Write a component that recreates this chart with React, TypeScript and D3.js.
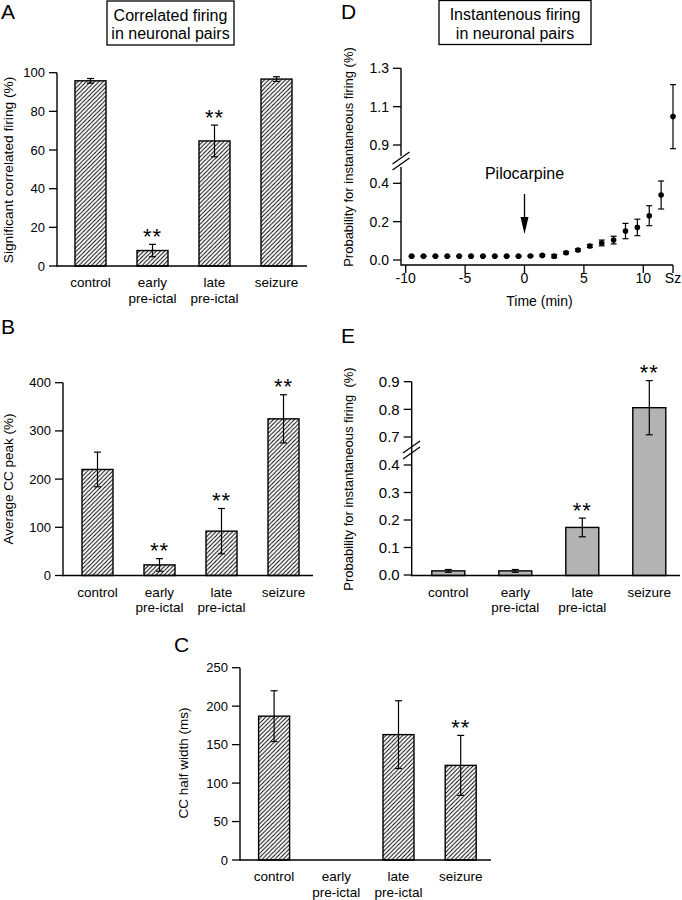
import React from "react";
import * as d3 from "d3";

const FONT = "'Liberation Sans', Arial, Helvetica, sans-serif";

// ---------- data ----------
const categories = ["control", "early", "late", "seizure"];
const categoryLabels = [["control"], ["early", "pre-ictal"], ["late", "pre-ictal"], ["seizure"]];

const aValues = [95.8, 8, 64.7, 96.7];
const aErrors = [1.2, 3.2, 8.2, 1.2];
const aStars = [false, true, true, false];
const aTicks = [0, 20, 40, 60, 80, 100];

const bValues = [220, 22, 92, 325];
const bErrors = [36, 13, 47, 50];
const bStars = [false, true, true, true];
const bTicks = [0, 100, 200, 300, 400];

const cValues: (number | null)[] = [187, null, 163, 123];
const cErrors: (number | null)[] = [33, null, 44, 39];
const cStars = [false, false, false, true];
const cTicks = [0, 50, 100, 150, 200, 250];

const eValues = [0.015, 0.015, 0.173, 0.806];
const eErrors = [0.005, 0.005, 0.034, 0.098];
const eStars = [false, false, true, true];
const eTicksLow = [0, 0.1, 0.2, 0.3, 0.4];
const eTicksHigh = [0.7, 0.8, 0.9];

const dTimes = [-9.5, -8.5, -7.5, -6.5, -5.5, -4.5, -3.5, -2.5, -1.5, -0.5, 0.5, 1.5, 2.5, 3.5, 4.5, 5.5, 6.5, 7.5, 8.5, 9.5, 10.5, 11.5];
const dValues = [0.02, 0.02, 0.02, 0.02, 0.02, 0.02, 0.02, 0.02, 0.02, 0.02, 0.021, 0.024, 0.02, 0.038, 0.052, 0.073, 0.089, 0.104, 0.151, 0.17, 0.231, 0.339];
const dErrors = [0.002, 0.002, 0.002, 0.002, 0.002, 0.002, 0.002, 0.002, 0.002, 0.002, 0.003, 0.004, 0.008, 0.006, 0.006, 0.008, 0.015, 0.02, 0.04, 0.043, 0.052, 0.073];
const dSeizureTime = 12.5;
const dSeizureValue = 1.048;
const dSeizureError = 0.167;
const dXTicks = [-10, -5, 0, 5, 10];
const dTicksLow = [0, 0.2, 0.4];
const dTicksHigh = [0.9, 1.1, 1.3];

// ---------- helpers ----------
type Scale = (v: number) => number;

function broken(lower: d3.ScaleLinear<number, number>, upper: d3.ScaleLinear<number, number>, split: number): Scale {
  return (v: number) => (v <= split ? lower(v) : upper(v));
}

function YTicks({ x, scale, ticks, fmt, fs }: { x: number; scale: Scale; ticks: number[]; fmt: (v: number) => string; fs: number }) {
  return (
    <g>
      {ticks.map((t) => (
        <g key={t}>
          <line x1={x - 8} x2={x} y1={scale(t)} y2={scale(t)} stroke="#000" strokeWidth={1.3} />
          <text x={x - 12} y={scale(t)} dy="0.35em" textAnchor="end" fontSize={fs} fontFamily={FONT}>
            {fmt(t)}
          </text>
        </g>
      ))}
    </g>
  );
}

function ErrorBar({ cx, top, bottom, cap }: { cx: number; top: number; bottom: number; cap: number }) {
  return (
    <g stroke="#000" strokeWidth={1.2}>
      <line x1={cx} x2={cx} y1={top} y2={bottom} />
      <line x1={cx - cap / 2} x2={cx + cap / 2} y1={top} y2={top} />
      <line x1={cx - cap / 2} x2={cx + cap / 2} y1={bottom} y2={bottom} />
    </g>
  );
}

type BarProps = {
  axisX: number;
  axisY: number;
  xEnd: number;
  range: [number, number];
  scale: Scale;
  topY: number;
  values: (number | null)[];
  errors: (number | null)[];
  stars: boolean[];
  barW: number;
  fill: string;
  labelFs: number;
};

function BarChart(p: BarProps) {
  const x = d3.scalePoint<string>().domain(categories).range(p.range).padding(0.5);
  return (
    <g>
      {categories.map((c, i) => {
        const v = p.values[i];
        const cx = x(c)!;
        const e = p.errors[i];
        return (
          <g key={c}>
            {v !== null && (
              <rect x={cx - p.barW / 2} y={p.scale(v)} width={p.barW} height={p.axisY - p.scale(v)} fill={p.fill} stroke="#000" strokeWidth={1.4} />
            )}
            {v !== null && e !== null && <ErrorBar cx={cx} top={p.scale(v + e)} bottom={p.scale(v - e)} cap={7} />}
            {v !== null && e !== null && p.stars[i] && (
              <text x={cx} y={p.scale(v + e) - 13 + 12.5} textAnchor="middle" fontSize={22} letterSpacing={1} fontFamily={FONT}>
                **
              </text>
            )}
            <text x={cx} y={p.axisY + 21} textAnchor="middle" fontSize={p.labelFs} fontFamily={FONT}>
              {categoryLabels[i].map((l, j) => (
                <tspan key={j} x={cx} dy={j === 0 ? 0 : 15.5}>
                  {l}
                </tspan>
              ))}
            </text>
          </g>
        );
      })}
      <line x1={p.axisX} x2={p.axisX} y1={p.topY} y2={p.axisY + 0.7} stroke="#000" strokeWidth={1.4} />
      <line x1={p.axisX} x2={p.xEnd} y1={p.axisY} y2={p.axisY} stroke="#000" strokeWidth={1.4} />
    </g>
  );
}

function YTitle({ x, y, text, fs }: { x: number; y: number; text: string; fs: number }) {
  return (
    <text transform={`translate(${x},${y}) rotate(-90)`} textAnchor="middle" fontSize={fs} fontFamily={FONT} style={{ whiteSpace: "pre" }}>
      {text}
    </text>
  );
}

function Letter({ x, y, t }: { x: number; y: number; t: string }) {
  return (
    <text x={x} y={y} fontSize={21} fontFamily={FONT}>
      {t}
    </text>
  );
}

function TitleBox({ x, y, w, h, lines }: { x: number; y: number; w: number; h: number; lines: string[] }) {
  return (
    <g>
      <rect x={x} y={y} width={w} height={h} fill="#fff" stroke="#000" strokeWidth={1.3} />
      {lines.map((l, i) => (
        <text key={i} x={x + w / 2} y={y + 19.5 + i * 18.5} textAnchor="middle" fontSize={16} fontFamily={FONT}>
          {l}
        </text>
      ))}
    </g>
  );
}

export default function App() {
  const f0 = d3.format(".0f");
  const f1 = d3.format(".1f");

  const aScale = d3.scaleLinear().domain([0, 100]).range([266, 72.7]);
  const bScale = d3.scaleLinear().domain([0, 400]).range([575.5, 382.7]);
  const cScale = d3.scaleLinear().domain([0, 250]).range([860, 667.7]);
  const eScale = broken(
    d3.scaleLinear().domain([0, 0.4]).range([575, 465]),
    d3.scaleLinear().domain([0.7, 0.9]).range([437, 381.7]),
    0.5
  );
  const dY = broken(
    d3.scaleLinear().domain([0, 0.4]).range([260, 183.3]),
    d3.scaleLinear().domain([0.9, 1.3]).range([145, 68.3]),
    0.6
  );
  const dX = d3.scaleLinear().domain([-10, 10]).range([405.7, 643.3]);
  const dAxisX = 401;
  const dAxisY = 265;

  return (
    <svg width={682} height={900} style={{ position: "absolute", left: 0, top: 0, background: "#fff" }}>
      <defs>
        <pattern id="hatch" patternUnits="userSpaceOnUse" width={4.2} height={4.2}>
          <rect width={4.2} height={4.2} fill="#fff" />
          <path d="M-1,1 L1,-1 M0,4.2 L4.2,0 M3.2,5.2 L5.2,3.2" stroke="#000" strokeWidth={1} />
        </pattern>
      </defs>
      <rect width={682} height={900} fill="#fff" />

      {/* Panel A */}
      <Letter x={1} y={19} t="A" />
      <TitleBox x={107} y={1} w={127} h={44} lines={["Correlated firing", "in neuronal pairs"]} />
      <YTicks x={57} scale={aScale} ticks={aTicks} fmt={f0} fs={13} />
      <BarChart axisX={57} axisY={266} xEnd={307} range={[59.5, 307.5]} scale={aScale} topY={72.7} values={aValues} errors={aErrors} stars={aStars} barW={31} fill="url(#hatch)" labelFs={13.5} />
      <YTitle x={12.5} y={170} text="Significant correlated firing (%)" fs={13.7} />

      {/* Panel B */}
      <Letter x={1} y={334} t="B" />
      <YTicks x={63} scale={bScale} ticks={bTicks} fmt={f0} fs={13} />
      <BarChart axisX={63} axisY={575.5} xEnd={313} range={[66.5, 314.5]} scale={bScale} topY={382.7} values={bValues} errors={bErrors} stars={bStars} barW={31} fill="url(#hatch)" labelFs={13.5} />
      <YTitle x={12.5} y={479} text="Average CC peak (%)" fs={13.5} />

      {/* Panel C */}
      <Letter x={174} y={652} t="C" />
      <YTicks x={240} scale={cScale} ticks={cTicks} fmt={f0} fs={13} />
      <BarChart axisX={240} axisY={860} xEnd={491} range={[243, 491.8]} scale={cScale} topY={667.7} values={cValues} errors={cErrors} stars={cStars} barW={31} fill="url(#hatch)" labelFs={13.5} />
      <YTitle x={188} y={763} text="CC half width (ms)" fs={13.5} />

      {/* Panel D */}
      <Letter x={341} y={19} t="D" />
      <TitleBox x={439} y={0.5} w={152} h={44} lines={["Instantenous firing", "in neuronal pairs"]} />
      <YTicks x={dAxisX} scale={dY} ticks={[...dTicksLow, ...dTicksHigh]} fmt={f1} fs={14} />
      <line x1={dAxisX} x2={dAxisX} y1={68.3} y2={156} stroke="#000" strokeWidth={1.4} />
      <line x1={dAxisX} x2={dAxisX} y1={167} y2={dAxisY + 0.7} stroke="#000" strokeWidth={1.4} />
      <line x1={392.5} y1={164} x2={409.5} y2={152} stroke="#000" strokeWidth={1.3} />
      <line x1={392.5} y1={170} x2={409.5} y2={158} stroke="#000" strokeWidth={1.3} />
      <line x1={dAxisX} x2={dX(dSeizureTime)} y1={dAxisY} y2={dAxisY} stroke="#000" strokeWidth={1.4} />
      {[...dXTicks, dSeizureTime].map((t) => (
        <g key={t}>
          <line x1={dX(t)} x2={dX(t)} y1={dAxisY} y2={dAxisY + 8} stroke="#000" strokeWidth={1.3} />
          <text x={dX(t)} y={dAxisY + 18} textAnchor="middle" fontSize={14} fontFamily={FONT}>
            {t === dSeizureTime ? "Sz" : String(t)}
          </text>
        </g>
      ))}
      <text x={dX(0) + 15} y={306} textAnchor="middle" fontSize={14} fontFamily={FONT}>
        Time (min)
      </text>
      {dTimes.map((t, i) => (
        <g key={t}>
          <ErrorBar cx={dX(t)} top={dY(dValues[i] + dErrors[i])} bottom={dY(dValues[i] - dErrors[i])} cap={6} />
          <circle cx={dX(t)} cy={dY(dValues[i])} r={2.8} fill="#000" />
        </g>
      ))}
      <ErrorBar cx={dX(dSeizureTime)} top={dY(dSeizureValue + dSeizureError)} bottom={dY(dSeizureValue - dSeizureError)} cap={6} />
      <circle cx={dX(dSeizureTime)} cy={dY(dSeizureValue)} r={2.8} fill="#000" />
      <text x={dX(0)} y={179} textAnchor="middle" fontSize={16} fontFamily={FONT}>
        Pilocarpine
      </text>
      <line x1={dX(0)} x2={dX(0)} y1={194} y2={218} stroke="#000" strokeWidth={1.3} />
      <path d={`M${dX(0) - 4},217 L${dX(0) + 4},217 L${dX(0)},234 Z`} fill="#000" />
      <YTitle x={353} y={157} text="Probability for instantaneous firing (%)" fs={13} />

      {/* Panel E */}
      <Letter x={341} y={343} t="E" />
      <YTicks x={411.7} scale={eScale} ticks={[...eTicksLow, ...eTicksHigh]} fmt={f1} fs={15} />
      <BarChart axisX={411.7} axisY={575.5} xEnd={680} range={[414.8, 682.8]} scale={eScale} topY={381.7} values={eValues} errors={eErrors} stars={eStars} barW={33} fill="#b3b3b3" labelFs={13.5} />
      <line x1={403} y1={453} x2={420} y2={441} stroke="#000" strokeWidth={1.3} />
      <line x1={403} y1={459} x2={420} y2={447} stroke="#000" strokeWidth={1.3} />
      <YTitle x={353} y={479} text="Probability for instantaneous firing  (%)" fs={13} />
    </svg>
  );
}
